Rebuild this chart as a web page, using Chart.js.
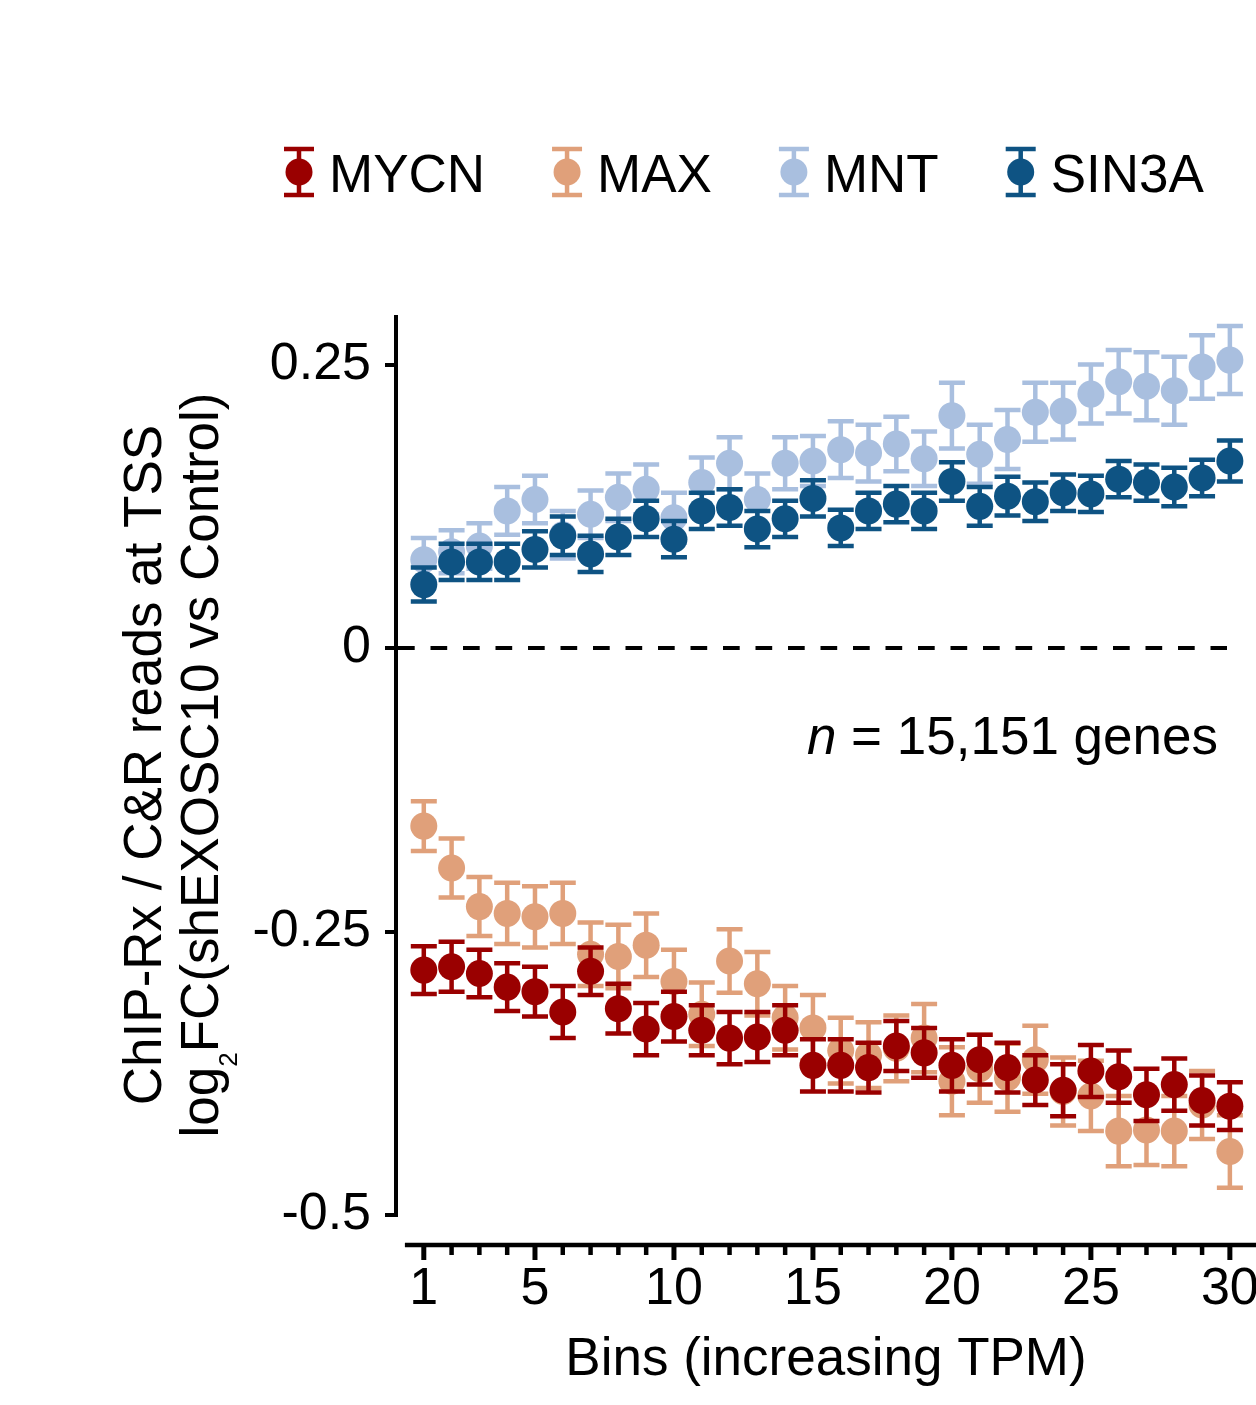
<!DOCTYPE html>
<html>
<head>
<meta charset="utf-8">
<script src="https://cdn.jsdelivr.net/npm/chart.js@4.4.0/dist/chart.umd.min.js"></script>
<style>
  html, body { margin: 0; padding: 0; background: #fff; }
  canvas { display: block; }
</style>
</head>
<body>
<canvas id="chart" width="1256" height="1405"></canvas>
<script>
// values
const bins = [1, 2, 3, 4, 5, 6, 7, 8, 9, 10, 11, 12, 13, 14, 15, 16, 17, 18, 19, 20, 21, 22, 23, 24, 25, 26, 27, 28, 29, 30];
const xLabelBins = [1, 5, 10, 15, 20, 25, 30];
const yTicks = [-0.5, -0.25, 0, 0.25];
const yTickLabels = ['-0.5', '-0.25', '0', '0.25'];

const seriesNames = ['MYCN', 'MAX', 'MNT', 'SIN3A'];
const seriesColors = ['#9a0000', '#e0a07a', '#a9bfdf', '#0e5383'];

const mycnMean = [-0.284, -0.281, -0.287, -0.299, -0.303, -0.321, -0.285, -0.318, -0.336, -0.325, -0.337, -0.344, -0.343, -0.337, -0.368, -0.368, -0.370, -0.351, -0.357, -0.368, -0.363, -0.370, -0.381, -0.390, -0.373, -0.378, -0.394, -0.385, -0.399, -0.404];
const mycnErr = [0.021, 0.022, 0.021, 0.021, 0.022, 0.023, 0.021, 0.022, 0.023, 0.022, 0.022, 0.023, 0.022, 0.022, 0.023, 0.023, 0.022, 0.022, 0.022, 0.023, 0.022, 0.022, 0.022, 0.023, 0.023, 0.023, 0.023, 0.023, 0.022, 0.021];

const maxMean = [-0.157, -0.194, -0.228, -0.234, -0.237, -0.234, -0.270, -0.272, -0.262, -0.294, -0.323, -0.276, -0.296, -0.326, -0.335, -0.355, -0.359, -0.353, -0.344, -0.382, -0.371, -0.379, -0.363, -0.391, -0.395, -0.426, -0.425, -0.426, -0.403, -0.444];
const maxErr = [0.022, 0.026, 0.026, 0.027, 0.027, 0.027, 0.028, 0.028, 0.028, 0.028, 0.028, 0.028, 0.028, 0.028, 0.029, 0.029, 0.029, 0.029, 0.030, 0.030, 0.030, 0.030, 0.030, 0.030, 0.031, 0.031, 0.031, 0.031, 0.030, 0.032];

const mntMean = [0.078, 0.085, 0.090, 0.121, 0.131, 0.100, 0.118, 0.133, 0.140, 0.115, 0.146, 0.163, 0.131, 0.163, 0.165, 0.175, 0.172, 0.180, 0.167, 0.205, 0.171, 0.184, 0.208, 0.209, 0.224, 0.235, 0.231, 0.227, 0.248, 0.254];
const mntErr = [0.019, 0.019, 0.020, 0.021, 0.021, 0.021, 0.021, 0.021, 0.022, 0.022, 0.022, 0.023, 0.023, 0.023, 0.022, 0.025, 0.025, 0.024, 0.024, 0.029, 0.026, 0.026, 0.026, 0.025, 0.026, 0.028, 0.030, 0.030, 0.028, 0.030];

const sin3aMean = [0.056, 0.076, 0.076, 0.076, 0.087, 0.099, 0.083, 0.098, 0.114, 0.096, 0.121, 0.124, 0.105, 0.114, 0.132, 0.106, 0.121, 0.127, 0.121, 0.147, 0.125, 0.134, 0.129, 0.137, 0.136, 0.149, 0.146, 0.142, 0.150, 0.165];
const sin3aErr = [0.015, 0.016, 0.016, 0.016, 0.016, 0.017, 0.016, 0.016, 0.016, 0.016, 0.016, 0.016, 0.016, 0.016, 0.016, 0.016, 0.016, 0.016, 0.016, 0.017, 0.017, 0.017, 0.017, 0.016, 0.016, 0.016, 0.016, 0.017, 0.016, 0.018];

const seriesMeans = [mycnMean, maxMean, mntMean, sin3aMean];
const seriesErrs = [mycnErr, maxErr, mntErr, sin3aErr];
// lower order is drawn on top: dark series over light ones
const seriesOrder = [0, 2, 3, 1];

const FONT = "'Liberation Sans', Arial, Helvetica, sans-serif";
Chart.defaults.font.family = FONT;
Chart.defaults.color = '#000';

// error bars, drawn just before each dataset's points
const errorBars = {
    id: 'errorBars',
    beforeDatasetDraw(chart, args) {
        const ds = chart.data.datasets[args.index];
        const yS = chart.scales.y;
        const ctx = chart.ctx;
        const errs = seriesErrs[args.index];
        ctx.save();
        ctx.strokeStyle = ds.backgroundColor;
        ctx.lineWidth = 4.5;
        args.meta.data.forEach((pt, i) => {
            const v = ds.data[i].y;
            const top = yS.getPixelForValue(v + errs[i]);
            const bot = yS.getPixelForValue(v - errs[i]);
            ctx.beginPath();
            ctx.moveTo(pt.x, top); ctx.lineTo(pt.x, bot);
            ctx.moveTo(pt.x - 13, top); ctx.lineTo(pt.x + 13, top);
            ctx.moveTo(pt.x - 13, bot); ctx.lineTo(pt.x + 13, bot);
            ctx.stroke();
        });
        ctx.restore();
    }
};

function drawGlyph(ctx, cx, cy, color) {
    ctx.save();
    ctx.strokeStyle = color;
    ctx.fillStyle = color;
    ctx.lineWidth = 4.5;
    ctx.beginPath();
    ctx.moveTo(cx, cy - 23); ctx.lineTo(cx, cy + 23);
    ctx.moveTo(cx - 15, cy - 23); ctx.lineTo(cx + 15, cy - 23);
    ctx.moveTo(cx - 15, cy + 23); ctx.lineTo(cx + 15, cy + 23);
    ctx.stroke();
    ctx.beginPath();
    ctx.arc(cx, cy, 13.5, 0, Math.PI * 2);
    ctx.fill();
    ctx.restore();
}

const decorations = {
    id: 'decorations',
    beforeDatasetsDraw(chart) {
        // dashed zero line
        const ctx = chart.ctx;
        const y0 = chart.scales.y.getPixelForValue(0);
        ctx.save();
        ctx.strokeStyle = '#000';
        ctx.lineWidth = 4;
        ctx.setLineDash([16.7, 15.8]);
        ctx.beginPath();
        ctx.moveTo(chart.chartArea.left + 2, y0);
        ctx.lineTo(1227, y0);
        ctx.stroke();
        ctx.restore();
    },
    afterDraw(chart) {
        const ctx = chart.ctx;
        const xS = chart.scales.x;
        const area = chart.chartArea;

        // detached x axis line with ticks
        const axisY = area.bottom + 30;
        ctx.save();
        ctx.strokeStyle = '#000';
        ctx.lineWidth = 4.5;
        ctx.beginPath();
        ctx.moveTo(xS.getPixelForValue(0.32), axisY);
        ctx.lineTo(chart.width, axisY);
        ctx.stroke();
        bins.forEach(b => {
            const px = xS.getPixelForValue(b);
            const major = xLabelBins.includes(b);
            ctx.lineWidth = major ? 5 : 4.5;
            ctx.beginPath();
            ctx.moveTo(px, axisY);
            ctx.lineTo(px, axisY + (major ? 15 : 10));
            ctx.stroke();
        });
        ctx.restore();

        // y axis title, two lines with a subscript
        ctx.save();
        ctx.fillStyle = '#000';
        ctx.textBaseline = 'alphabetic';
        ctx.font = '53px ' + FONT;
        ctx.translate(161, 765);
        ctx.rotate(-Math.PI / 2);
        ctx.textAlign = 'center';
        ctx.fillText('ChIP-Rx / C&R reads at TSS', 0, 0);
        ctx.restore();

        ctx.save();
        ctx.fillStyle = '#000';
        ctx.textBaseline = 'alphabetic';
        ctx.textAlign = 'left';
        ctx.translate(218, 765);
        ctx.rotate(-Math.PI / 2);
        const bigFont = '53px ' + FONT, subFont = '26px ' + FONT;
        ctx.font = bigFont;
        const w1 = ctx.measureText('log').width;
        const w3 = ctx.measureText('FC(shEXOSC10 vs Control)').width;
        ctx.font = subFont;
        const w2 = ctx.measureText('2').width;
        let x = -(w1 + w2 + w3) / 2;
        ctx.font = bigFont;
        ctx.fillText('log', x, 0);
        x += w1;
        ctx.font = subFont;
        ctx.fillText('2', x, 19);
        x += w2;
        ctx.font = bigFont;
        ctx.fillText('FC(shEXOSC10 vs Control)', x, 0);
        ctx.restore();

        // legend
        ctx.save();
        ctx.fillStyle = '#000';
        ctx.font = '53px ' + FONT;
        ctx.textBaseline = 'alphabetic';
        ctx.textAlign = 'left';
        let mx = 299;
        seriesNames.forEach((name, i) => {
            drawGlyph(ctx, mx, 172, seriesColors[i]);
            ctx.fillStyle = '#000';
            ctx.fillText(name, mx + 30, 192);
            mx += 30 + ctx.measureText(name).width + 82;
        });
        ctx.restore();

        // gene count note
        ctx.save();
        ctx.fillStyle = '#000';
        ctx.textBaseline = 'alphabetic';
        ctx.textAlign = 'left';
        const rest = ' = 15,151 genes';
        ctx.font = '53px ' + FONT;
        const wr = ctx.measureText(rest).width;
        ctx.font = 'italic 53px ' + FONT;
        const wn = ctx.measureText('n').width;
        const nx = 1218 - wr - wn;
        ctx.fillText('n', nx, 754);
        ctx.font = '53px ' + FONT;
        ctx.fillText(rest, nx + wn, 754);
        ctx.restore();
    }
};

const datasets = seriesNames.map((name, i) => ({
    label: name,
    data: bins.map((b, j) => ({ x: b, y: seriesMeans[i][j] })),
    backgroundColor: seriesColors[i],
    borderColor: seriesColors[i],
    borderWidth: 0,
    pointRadius: 13.5,
    pointHoverRadius: 13.5,
    showLine: false,
    order: seriesOrder[i]
}));

const ctx = document.getElementById('chart').getContext('2d');
const myChart = new Chart(ctx, {
    type: 'scatter',
    data: { datasets: datasets },
    plugins: [errorBars, decorations],
    options: {
        responsive: false,
        animation: false,
        devicePixelRatio: 1,
        events: [],
        layout: { autoPadding: false, padding: { top: 317, left: 0, right: 0, bottom: 0 } },
        plugins: {
            legend: { display: false },
            tooltip: { enabled: false }
        },
        scales: {
            x: {
                type: 'linear',
                min: 0,
                max: 30.94,
                afterBuildTicks: s => { s.ticks = bins.map(v => ({ value: v })); },
                afterFit: s => { s.height = 190; s.paddingLeft = 0; s.paddingRight = 0; },
                grid: { display: false, drawTicks: false },
                border: { display: false },
                ticks: {
                    autoSkip: false,
                    maxRotation: 0,
                    color: '#000',
                    padding: 43,
                    font: { size: 52 },
                    callback: v => xLabelBins.includes(v) ? String(v) : ''
                },
                title: {
                    display: true,
                    text: 'Bins (increasing TPM)',
                    color: '#000',
                    font: { size: 53 },
                    padding: { top: 0, bottom: 13 }
                }
            },
            y: {
                type: 'linear',
                min: -0.5,
                max: 0.292,
                afterBuildTicks: s => { s.ticks = yTicks.map(v => ({ value: v })); },
                afterFit: s => { s.width = 396; s.paddingTop = 0; s.paddingBottom = 0; },
                grid: {
                    display: true,
                    drawOnChartArea: false,
                    drawTicks: true,
                    tickLength: 11,
                    tickWidth: 4,
                    tickColor: '#000',
                    lineWidth: 4,
                    color: '#000'
                },
                border: { display: true, color: '#000', width: 4 },
                ticks: {
                    color: '#000',
                    padding: 14,
                    font: { size: 52 },
                    callback: (v, i) => yTickLabels[i]
                }
            }
        }
    }
});
</script>
</body>
</html>
